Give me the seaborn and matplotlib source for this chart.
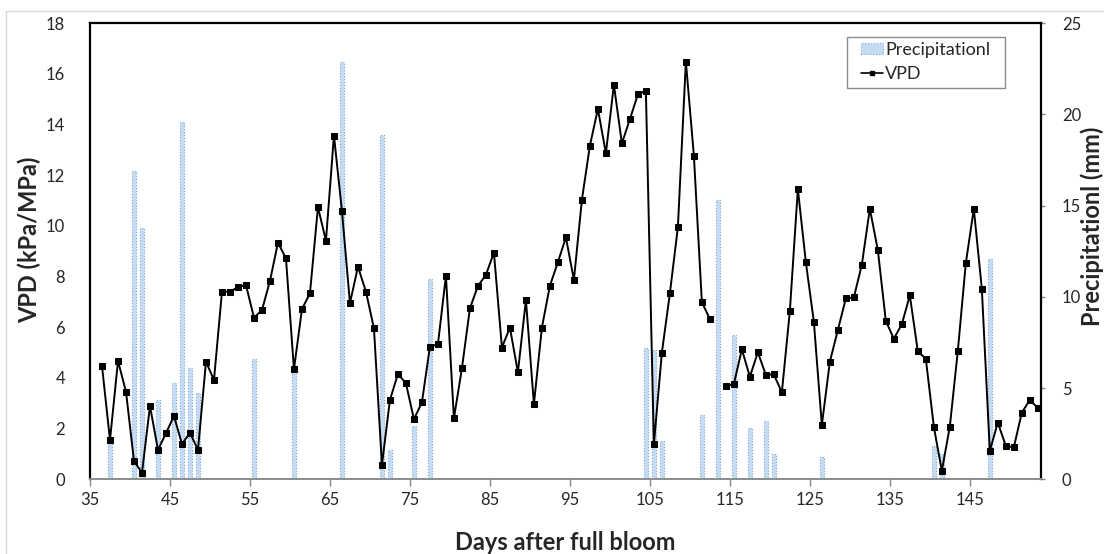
import numpy as np
import pandas as pd
import matplotlib
matplotlib.use("Agg")
import matplotlib.pyplot as plt
from matplotlib.lines import Line2D
from matplotlib.patches import Patch, Rectangle
import seaborn as sns

# ---------------- data ----------------
days = list(range(36, 154))
vpd = [4.47, 1.55, 4.67, 3.46, 0.72, 0.26, 2.89, 1.16, 1.82, 2.50,
       1.39, 1.84, 1.16, 4.64, 3.92, 7.41, 7.41, 7.58, 7.67, 6.38,
       6.68, 7.83, 9.34, 8.72, 4.34, 6.72, 7.34, 10.74, 9.42, 13.57,
       10.59, 6.95, 8.39, 7.41, 5.96, 0.57, 3.13, 4.16, 3.79, 2.37,
       3.04, 5.24, 5.33, 8.03, 2.41, 4.38, 6.75, 7.63, 8.07, 8.95,
       5.20, 5.99, 4.22, 7.08, 2.97, 5.99, 7.64, 8.57, 9.55, 7.87,
       11.03, 13.17, 14.62, 12.87, 15.57, 13.26, 14.21, 15.20, 15.33, 1.38,
       5.00, 7.34, 9.95, 16.49, 12.78, 6.99, 6.33, np.nan, 3.68, 3.76,
       5.13, 4.05, 5.01, 4.12, 4.14, 3.43, 6.64, 11.46, 8.57, 6.22,
       2.14, 4.64, 5.89, 7.14, 7.18, 8.47, 10.68, 9.05, 6.25, 5.55,
       6.12, 7.26, 5.05, 4.76, 2.08, 0.33, 2.08, 5.07, 8.53, 10.68,
       7.53, 1.12, 2.24, 1.32, 1.26, 2.63, 3.13, 2.82]

precip_days = [37, 40, 41, 43, 45, 46, 47, 48, 55, 60, 66, 71, 72, 75, 77,
               104, 105, 106, 111, 113, 115, 117, 119, 120, 126, 140, 141, 147]
precip = [2.3, 16.9, 13.8, 4.35, 5.3, 19.6, 6.1, 4.75, 6.6, 6.0, 22.9, 18.9, 1.6, 2.9, 11.0,
          7.2, 7.1, 2.1, 3.5, 15.3, 7.9, 2.8, 3.2, 1.4, 1.2, 1.85, 1.4, 12.1]

x_tick_labels = [35, 45, 55, 65, 75, 85, 95, 105, 115, 125, 135, 145]
vpd_ticks = [0, 2, 4, 6, 8, 10, 12, 14, 16, 18]
precip_ticks = [0, 5, 10, 15, 20, 25]

# ---------------- style ----------------
sns.set_style("white")
plt.rcParams["font.family"] = ["Lato", "DejaVu Sans"]

W, H = 1104, 554
fig = plt.figure(figsize=(W / 100, H / 100), dpi=100)
ax = fig.add_axes([90 / W, (H - 479.3) / H, 951 / W, 456 / H])
ax2 = ax.twinx()
ax.set_zorder(ax2.get_zorder() + 1)
ax.patch.set_visible(False)

# segments (gap where VPD missing)
vpd_arr = np.array(vpd, dtype=float)
seg = np.cumsum(np.isnan(vpd_arr))
df = pd.DataFrame({"day": days, "vpd": vpd_arr, "seg": seg}).dropna()

pdf = pd.DataFrame({"day": precip_days, "precip": precip})

bar_face = "#c6dcf2"
bar_edge = "#6fa8dc"
sns.barplot(data=pdf, x="day", y="precip", native_scale=True, width=0.45,
            color=bar_face, edgecolor=bar_edge, linestyle=":", linewidth=0.8,
            errorbar=None, saturation=1, ax=ax2)

sns.lineplot(data=df, x="day", y="vpd", units="seg", estimator=None,
             color="black", linewidth=1.4, marker="s", markersize=4.5,
             markeredgecolor="black", ax=ax, legend=False)

# axes limits / ticks
ax.set_xlim(34.5, 153.4)
ax.set_ylim(0, 18)
ax2.set_ylim(0, 25)
ax.set_xticks([t - 0.5 for t in x_tick_labels])
ax.set_xticklabels([str(t) for t in x_tick_labels])
ax.set_yticks(vpd_ticks)
ax2.set_yticks(precip_ticks)

ax.tick_params(axis="x", direction="out", length=5, width=1, color="#888888",
               labelsize=12, pad=4, bottom=True)
ax.tick_params(axis="y", length=0, labelsize=12, pad=18, left=False)
ax2.tick_params(axis="y", direction="out", length=3, width=1, color="#888888",
                labelsize=12, pad=12, right=True)

for s in ["left", "top", "right"]:
    ax.spines[s].set_color("black")
    ax.spines[s].set_linewidth(1.6)
ax.spines["bottom"].set_color("#8c8c8c")
ax.spines["bottom"].set_linewidth(1.4)
for s in ax2.spines.values():
    s.set_visible(False)

ax.set_xlabel("Days after full bloom", fontsize=17, fontweight="bold")
ax.xaxis.set_label_coords(0.5, -0.113)
ax.set_ylabel("VPD (kPa/MPa)", fontsize=17, fontweight="bold")
ax.yaxis.set_label_coords(-0.0515, 0.525)
ax2.set_ylabel("Precipitationl (mm)", fontsize=17, fontweight="bold", rotation=90)
ax2.yaxis.set_label_coords(1.041, 0.555)
ax2.set_xlabel("")

handles = [Patch(facecolor=bar_face, edgecolor=bar_edge, linestyle=":", linewidth=0.8),
           Line2D([0], [0], color="black", linewidth=1.2, marker="s", markersize=3.5)]
leg = ax.legend(handles, ["Precipitationl", "VPD"], loc="upper left",
                bbox_to_anchor=(860.7 / W, 1 - 42 / H),
                bbox_transform=fig.transFigure, borderaxespad=0, borderpad=0,
                fontsize=13, frameon=False,
                handlelength=1.22, handleheight=0.55, handletextpad=0.15,
                labelspacing=0.42)

# legend frame (drawn as a figure rectangle)
fig.add_artist(Rectangle((847.3 / W, 1 - 88 / H), (1005 - 847.3) / W, (88 - 37.3) / H,
                         transform=fig.transFigure, facecolor="none",
                         edgecolor="#8c8c8c", linewidth=1.0, zorder=10))

# outer light frame
fig.add_artist(Line2D([6 / W, 6 / W], [0, 1 - 11 / H], color="#d9d9d9", linewidth=1))
fig.add_artist(Line2D([6 / W, 1], [1 - 11 / H, 1 - 11 / H], color="#d9d9d9", linewidth=1))

fig.savefig("out.png", dpi=100, facecolor="white")
